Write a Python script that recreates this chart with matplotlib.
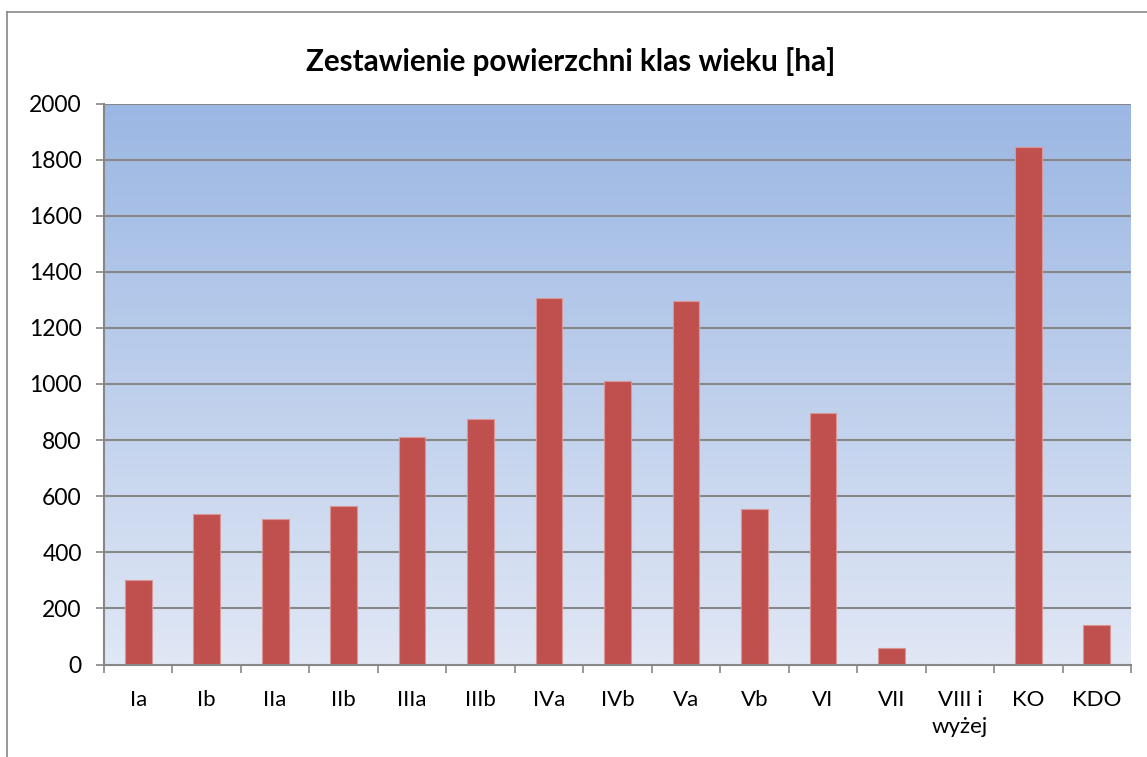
import matplotlib
matplotlib.use("Agg")
import matplotlib.pyplot as plt
import numpy as np
from matplotlib.lines import Line2D

# dane
klasy = ["Ia", "Ib", "IIa", "IIb", "IIIa", "IIIb", "IVa", "IVb", "Va", "Vb",
         "VI", "VII", "VIII i\nwyżej", "KO", "KDO"]
pow_ha = [300, 535, 520, 565, 810, 875, 1305, 1010, 1295, 556,
          898, 60, 0, 1845, 140]
yticks = [0, 200, 400, 600, 800, 1000, 1200, 1400, 1600, 1800, 2000]

plt.rcParams['font.family'] = ['Lato', 'DejaVu Sans']

fig = plt.figure(figsize=(11.47, 7.57), dpi=100)
ax = fig.add_axes([104/1147, 1-664.5/757, (1131-104)/1147, (664.5-103.5)/757])

n = len(klasy)
x = np.arange(n)

# tlo - gradient
grad = np.linspace(0, 1, 256).reshape(-1, 1)
top = np.array([0x9B, 0xB7, 0xE3]) / 255
bot = np.array([0xE0, 0xE7, 0xF5]) / 255
img = top * (1 - grad)[:, :, None] + bot * grad[:, :, None]
ax.imshow(img, extent=[-0.5, n-0.5, 0, 2000], aspect='auto', origin='upper', zorder=0)

for v in yticks[1:]:
    ax.axhline(v, color='#878787', lw=1.5, zorder=1)

ax.bar(x, pow_ha, width=0.39, color='#C0504D', edgecolor='#D99694', lw=0.8, zorder=2)

ax.set_xlim(-0.5, n-0.5)
ax.set_ylim(0, 2000)
ax.set_yticks(yticks)
ax.set_yticklabels([str(v) for v in yticks], fontsize=16.5)
ax.set_xticks(x)
ax.set_xticklabels(klasy, fontsize=16, linespacing=1.45, va='top')
ax.set_xticks(np.arange(-0.5, n, 1), minor=True)
ax.tick_params(axis='x', which='major', length=0, pad=18)
ax.tick_params(axis='x', which='minor', length=6, color='#878787', width=1.2)
ax.tick_params(axis='y', length=6, color='#878787', width=1.2, pad=10)

for s in ['top', 'right']:
    ax.spines[s].set_visible(False)
for s in ['left', 'bottom']:
    ax.spines[s].set_color('#878787')
    ax.spines[s].set_linewidth(1.5)

fig.text(571/1147, 1-62/757, "Zestawienie powierzchni klas wieku [ha]",
         ha='center', va='center', fontsize=21.3, fontweight='bold')

# ramka wykresu
fig.add_artist(Line2D([7/1147, 1], [1-12/757, 1-12/757], color='#878787', lw=1.2))
fig.add_artist(Line2D([7/1147, 7/1147], [0, 1-12/757], color='#878787', lw=1.2))

fig.savefig("out.png", dpi=100)
